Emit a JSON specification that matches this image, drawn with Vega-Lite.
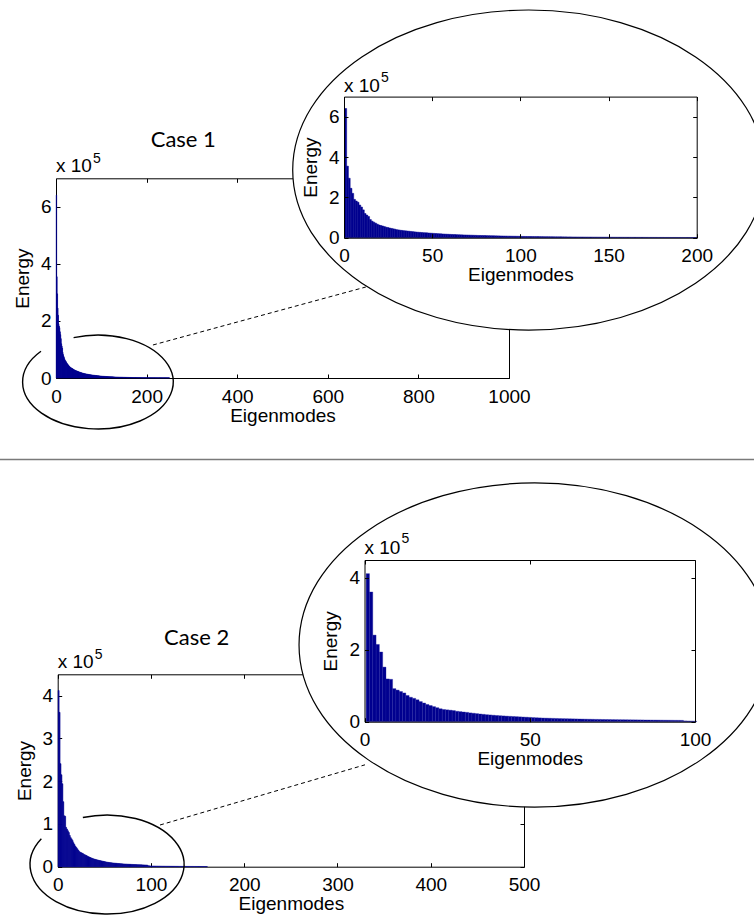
{
"$schema": "https://vega.github.io/schema/vega-lite/v6.json",
"width": 754,
"height": 919,
"autosize": {"type": "none"},
"padding": 0,
"background": "white",
"config": {
  "view": {"stroke": null},
  "font": "Liberation Sans",
  "axis": {"domainColor": "black", "domainWidth": 1, "tickColor": "black", "tickWidth": 1, "tickSize": -4, "labelFont": "Liberation Sans", "labelFontSize": 19, "labelColor": "black", "labelFlush": false, "labelOverlap": false, "titleFont": "Liberation Sans", "titleFontSize": 19, "titleFontWeight": "normal", "titleColor": "black", "grid": false, "minExtent": 0, "maxExtent": 300},
  "axisX": {"labelPadding": 13, "titlePadding": 0},
  "axisY": {"labelPadding": 9, "titlePadding": 8}
},
"datasets": {
"c1": [
{"m":1,"e":641000},{"m":2,"e":355000},{"m":3,"e":295000},{"m":4,"e":245000},{"m":5,"e":220000},{"m":6,"e":190000},{"m":7,"e":182000},{"m":8,"e":176000},{"m":9,"e":162000},{"m":10,"e":152000},
{"m":11,"e":138000},{"m":12,"e":120000},{"m":13,"e":112000},{"m":14,"e":105000},{"m":15,"e":90000},{"m":16,"e":82000},{"m":17,"e":77000},{"m":18,"e":72000},{"m":19,"e":67000},{"m":20,"e":63000},
{"m":21,"e":60000},{"m":22,"e":58000},{"m":23,"e":55000},{"m":24,"e":52000},{"m":25,"e":50000},{"m":26,"e":48000},{"m":27,"e":46000},{"m":28,"e":44000},{"m":29,"e":42000},{"m":30,"e":40000},
{"m":31,"e":38500},{"m":32,"e":37000},{"m":33,"e":36000},{"m":34,"e":35000},{"m":35,"e":34000},{"m":36,"e":33000},{"m":37,"e":32000},{"m":38,"e":31000},{"m":39,"e":30000},{"m":40,"e":29000},
{"m":41,"e":28000},{"m":42,"e":27200},{"m":43,"e":26500},{"m":44,"e":25800},{"m":45,"e":25000},{"m":46,"e":24500},{"m":47,"e":24000},{"m":48,"e":23200},{"m":49,"e":22600},{"m":50,"e":22000},
{"m":51,"e":21400},{"m":52,"e":20800},{"m":53,"e":20200},{"m":54,"e":19600},{"m":55,"e":19000},{"m":56,"e":18500},{"m":57,"e":18000},{"m":58,"e":17500},{"m":59,"e":17000},{"m":60,"e":16500},
{"m":61,"e":16100},{"m":62,"e":15700},{"m":63,"e":15300},{"m":64,"e":14900},{"m":65,"e":14600},{"m":66,"e":14300},{"m":67,"e":14000},{"m":68,"e":13700},{"m":69,"e":13400},{"m":70,"e":13100},
{"m":71,"e":12800},{"m":72,"e":12500},{"m":73,"e":12200},{"m":74,"e":11900},{"m":75,"e":11600},{"m":76,"e":11300},{"m":77,"e":11100},{"m":78,"e":10900},{"m":79,"e":10700},{"m":80,"e":10500},
{"m":81,"e":10200},{"m":82,"e":10000},{"m":83,"e":9800},{"m":84,"e":9600},{"m":85,"e":9400},{"m":86,"e":9200},{"m":87,"e":9000},{"m":88,"e":8800},{"m":89,"e":8600},{"m":90,"e":8400},
{"m":91,"e":8200},{"m":92,"e":8000},{"m":93,"e":7800},{"m":94,"e":7700},{"m":95,"e":7500},{"m":96,"e":7300},{"m":97,"e":7200},{"m":98,"e":7000},{"m":99,"e":6900},{"m":100,"e":6700},
{"m":101,"e":6300},{"m":102,"e":6200},{"m":103,"e":6100},{"m":104,"e":6000},{"m":105,"e":5900},{"m":106,"e":5800},{"m":107,"e":5700},{"m":108,"e":5600},{"m":109,"e":5500},{"m":110,"e":5400},
{"m":111,"e":5300},{"m":112,"e":5200},{"m":113,"e":5100},{"m":114,"e":5000},{"m":115,"e":4900},{"m":116,"e":4800},{"m":117,"e":4700},{"m":118,"e":4600},{"m":119,"e":4500},{"m":120,"e":4400},
{"m":121,"e":4350},{"m":122,"e":4300},{"m":123,"e":4200},{"m":124,"e":4100},{"m":125,"e":4000},{"m":126,"e":3950},{"m":127,"e":3900},{"m":128,"e":3800},{"m":129,"e":3700},{"m":130,"e":3600},
{"m":131,"e":3550},{"m":132,"e":3500},{"m":133,"e":3400},{"m":134,"e":3350},{"m":135,"e":3300},{"m":136,"e":3200},{"m":137,"e":3150},{"m":138,"e":3100},{"m":139,"e":3000},{"m":140,"e":2950},
{"m":141,"e":2900},{"m":142,"e":2850},{"m":143,"e":2800},{"m":144,"e":2750},{"m":145,"e":2700},{"m":146,"e":2650},{"m":147,"e":2600},{"m":148,"e":2550},{"m":149,"e":2500},{"m":150,"e":2450},
{"m":151,"e":2400},{"m":152,"e":2350},{"m":153,"e":2300},{"m":154,"e":2260},{"m":155,"e":2220},{"m":156,"e":2180},{"m":157,"e":2140},{"m":158,"e":2100},{"m":159,"e":2060},{"m":160,"e":2020},
{"m":161,"e":1980},{"m":162,"e":1940},{"m":163,"e":1900},{"m":164,"e":1870},{"m":165,"e":1840},{"m":166,"e":1810},{"m":167,"e":1780},{"m":168,"e":1750},{"m":169,"e":1720},{"m":170,"e":1690},
{"m":171,"e":1660},{"m":172,"e":1630},{"m":173,"e":1600},{"m":174,"e":1570},{"m":175,"e":1540},{"m":176,"e":1510},{"m":177,"e":1480},{"m":178,"e":1450},{"m":179,"e":1420},{"m":180,"e":1400},
{"m":181,"e":1380},{"m":182,"e":1360},{"m":183,"e":1340},{"m":184,"e":1320},{"m":185,"e":1300},{"m":186,"e":1280},{"m":187,"e":1260},{"m":188,"e":1240},{"m":189,"e":1220},{"m":190,"e":1200},
{"m":191,"e":1180},{"m":192,"e":1160},{"m":193,"e":1140},{"m":194,"e":1120},{"m":195,"e":1100},{"m":196,"e":1080},{"m":197,"e":1060},{"m":198,"e":1040},{"m":199,"e":1020},{"m":200,"e":1000},
{"m":201,"e":990},{"m":202,"e":980},{"m":203,"e":970},{"m":204,"e":960},{"m":205,"e":950},{"m":206,"e":940},{"m":207,"e":935},{"m":208,"e":930},{"m":209,"e":925},{"m":210,"e":920},
{"m":211,"e":910},{"m":212,"e":900},{"m":213,"e":895},{"m":214,"e":890},{"m":215,"e":885},{"m":216,"e":880},{"m":217,"e":870},{"m":218,"e":860},{"m":219,"e":855},{"m":220,"e":850},
{"m":221,"e":845},{"m":222,"e":840},{"m":223,"e":830},{"m":224,"e":820},{"m":225,"e":815},{"m":226,"e":810},{"m":227,"e":805},{"m":228,"e":800},{"m":229,"e":795},{"m":230,"e":790},
{"m":231,"e":785},{"m":232,"e":780},{"m":233,"e":775},{"m":234,"e":770},{"m":235,"e":765},{"m":236,"e":760},{"m":237,"e":755},{"m":238,"e":750},{"m":239,"e":745},{"m":240,"e":740},
{"m":241,"e":735},{"m":242,"e":730},{"m":243,"e":725},{"m":244,"e":720},{"m":245,"e":715},{"m":246,"e":710},{"m":247,"e":705},{"m":248,"e":700},{"m":249,"e":695},{"m":250,"e":690}
],
"c2": [
{"m":1,"e":412000},{"m":2,"e":361000},{"m":3,"e":241000},{"m":4,"e":215000},{"m":5,"e":194000},{"m":6,"e":152000},{"m":7,"e":119000},{"m":8,"e":118000},{"m":9,"e":92000},{"m":10,"e":88000},
{"m":11,"e":84000},{"m":12,"e":80000},{"m":13,"e":73000},{"m":14,"e":68000},{"m":15,"e":65000},{"m":16,"e":61000},{"m":17,"e":56000},{"m":18,"e":52000},{"m":19,"e":48000},{"m":20,"e":45000},
{"m":21,"e":42000},{"m":22,"e":39000},{"m":23,"e":36000},{"m":24,"e":34000},{"m":25,"e":33000},{"m":26,"e":32000},{"m":27,"e":31000},{"m":28,"e":29000},{"m":29,"e":28000},{"m":30,"e":27000},
{"m":31,"e":26000},{"m":32,"e":24500},{"m":33,"e":23500},{"m":34,"e":22500},{"m":35,"e":21500},{"m":36,"e":20500},{"m":37,"e":19500},{"m":38,"e":18800},{"m":39,"e":18000},{"m":40,"e":17300},
{"m":41,"e":16700},{"m":42,"e":16100},{"m":43,"e":15500},{"m":44,"e":15000},{"m":45,"e":14500},{"m":46,"e":14000},{"m":47,"e":13500},{"m":48,"e":13000},{"m":49,"e":12500},{"m":50,"e":12000},
{"m":51,"e":11500},{"m":52,"e":11000},{"m":53,"e":10600},{"m":54,"e":10200},{"m":55,"e":9900},{"m":56,"e":9600},{"m":57,"e":9300},{"m":58,"e":9000},{"m":59,"e":8700},{"m":60,"e":8500},
{"m":61,"e":8300},{"m":62,"e":8100},{"m":63,"e":7900},{"m":64,"e":7700},{"m":65,"e":7500},{"m":66,"e":7300},{"m":67,"e":7100},{"m":68,"e":6900},{"m":69,"e":6700},{"m":70,"e":6500},
{"m":71,"e":6400},{"m":72,"e":6200},{"m":73,"e":6100},{"m":74,"e":6000},{"m":75,"e":5800},{"m":76,"e":5700},{"m":77,"e":5600},{"m":78,"e":5500},{"m":79,"e":5400},{"m":80,"e":5300},
{"m":81,"e":5200},{"m":82,"e":5100},{"m":83,"e":5000},{"m":84,"e":4900},{"m":85,"e":4800},{"m":86,"e":4700},{"m":87,"e":4600},{"m":88,"e":4500},{"m":89,"e":4400},{"m":90,"e":4300},
{"m":91,"e":4200},{"m":92,"e":4100},{"m":93,"e":4000},{"m":94,"e":3900},{"m":95,"e":3800},{"m":96,"e":3700},{"m":97,"e":2200},{"m":98,"e":2000},{"m":99,"e":1800},{"m":100,"e":1600},
{"m":101,"e":1550},{"m":102,"e":1500},{"m":103,"e":1460},{"m":104,"e":1420},{"m":105,"e":1380},{"m":106,"e":1340},{"m":107,"e":1300},{"m":108,"e":1270},{"m":109,"e":1240},{"m":110,"e":1210},
{"m":111,"e":1180},{"m":112,"e":1150},{"m":113,"e":1120},{"m":114,"e":1090},{"m":115,"e":1060},{"m":116,"e":1040},{"m":117,"e":1020},{"m":118,"e":1000},{"m":119,"e":980},{"m":120,"e":960},
{"m":121,"e":940},{"m":122,"e":920},{"m":123,"e":900},{"m":124,"e":880},{"m":125,"e":860},{"m":126,"e":840},{"m":127,"e":820},{"m":128,"e":800},{"m":129,"e":780},{"m":130,"e":760},
{"m":131,"e":740},{"m":132,"e":720},{"m":133,"e":700},{"m":134,"e":690},{"m":135,"e":680},{"m":136,"e":670},{"m":137,"e":660},{"m":138,"e":650},{"m":139,"e":640},{"m":140,"e":630},
{"m":141,"e":620},{"m":142,"e":610},{"m":143,"e":600},{"m":144,"e":590},{"m":145,"e":580},{"m":146,"e":570},{"m":147,"e":560},{"m":148,"e":550},{"m":149,"e":540},{"m":150,"e":530},
{"m":151,"e":520},{"m":152,"e":510},{"m":153,"e":500},{"m":154,"e":490},{"m":155,"e":480},{"m":156,"e":470},{"m":157,"e":460},{"m":158,"e":450},{"m":159,"e":440},{"m":160,"e":430}
]
},
"layer": [
{
  "data": {"values": [{}]},
  "mark": {"type": "rule", "color": "#7a7a7a", "strokeWidth": 1.5},
  "encoding": {"y": {"datum": 0.5, "type": "quantitative", "scale": {"domain": [0, 1], "range": [919, 0]}, "axis": null}}
},
{
  "layer": [
    {
      "data": {"name": "c1"},
      "transform": [{"bin": {"extent": [0.5, 1000.5], "step": 1, "nice": false}, "field": "m", "as": ["m0", "m1"]}],
      "mark": {"type": "rect", "color": "#00008f", "stroke": "#00008f", "strokeWidth": 0.6},
      "encoding": {
        "x": {"field": "m0", "type": "quantitative", "scale": {"domain": [0, 1000], "range": [56, 509], "nice": false, "zero": false}, "axis": {"orient": "bottom", "offset": -541, "values": [0, 200, 400, 600, 800, 1000], "format": "d", "title": "Eigenmodes", "zindex": 0}},
        "x2": {"field": "m1"},
        "y": {"field": "e", "type": "quantitative", "scale": {"domain": [0, 700000], "range": [378, 178.3], "nice": false}, "axis": {"orient": "left", "offset": -56, "values": [0, 200000, 400000, 600000], "labelExpr": "datum.value / 100000", "title": "Energy", "zindex": 0}},
        "y2": {"datum": 0}
      }
    },
    {
      "data": {"values": [{}]},
      "mark": {"type": "point", "opacity": 0},
      "encoding": {
        "x": {"datum": 0, "type": "quantitative", "axis": {"orient": "top", "offset": -178.3, "values": [0, 200, 400, 600, 800, 1000], "labels": false, "title": null, "zindex": 0}},
        "y": {"datum": 0, "type": "quantitative", "axis": {"orient": "right", "offset": -245, "values": [0, 200000, 400000, 600000], "labels": false, "title": null, "zindex": 0}}
      }
    },
    {
      "data": {"values": [{}]},
      "mark": {"type": "text", "text": "x 10", "align": "left", "baseline": "alphabetic", "dy": -6.5, "fontSize": 19, "font": "Liberation Sans", "color": "black"},
      "encoding": {"x": {"datum": 0, "type": "quantitative", "axis": null}, "y": {"datum": 700000, "type": "quantitative", "axis": null}}
    },
    {
      "data": {"values": [{}]},
      "mark": {"type": "text", "text": "5", "align": "left", "baseline": "alphabetic", "dx": 37, "dy": -15.5, "fontSize": 14, "font": "Liberation Sans", "color": "black"},
      "encoding": {"x": {"datum": 0, "type": "quantitative", "axis": null}, "y": {"datum": 700000, "type": "quantitative", "axis": null}}
    },
    {
      "data": {"values": [{}]},
      "mark": {"type": "text", "text": "Case 1", "align": "center", "baseline": "alphabetic", "dy": -31.6, "fontSize": 22, "font": "Lato", "color": "black"},
      "encoding": {"x": {"datum": 281, "type": "quantitative", "axis": null}, "y": {"datum": 700000, "type": "quantitative", "axis": null}}
    },
    {
      "data": {"values": [{}]},
      "mark": {"type": "point", "shape": "M -0.324 -0.590 A 1 0.624 0 1 1 -0.757 -0.408", "size": 22680, "filled": false, "stroke": "black", "strokeWidth": 1.4, "opacity": 1},
      "encoding": {"x": {"datum": 92.7, "type": "quantitative", "axis": null}, "y": {"datum": -14000, "type": "quantitative", "axis": null}}
    },
    {
      "data": {"values": [{}]},
      "mark": {"type": "rule", "color": "black", "strokeWidth": 1, "strokeDash": [4, 3]},
      "encoding": {"x": {"datum": 214, "type": "quantitative", "axis": null}, "y": {"datum": 115700, "type": "quantitative", "axis": null}, "x2": {"datum": 684}, "y2": {"datum": 319000}}
    },
    {
      "data": {"values": [{}]},
      "mark": {"type": "point", "shape": "M -1 0 A 1 0.678 0 1 1 1 0 A 1 0.678 0 1 1 -1 0 Z", "size": 222784, "filled": true, "fill": "white", "stroke": "black", "strokeWidth": 1.2, "opacity": 1},
      "encoding": {"x": {"datum": 1043.5, "type": "quantitative", "axis": null}, "y": {"datum": 729000, "type": "quantitative", "axis": null}}
    }
  ],
  "resolve": {"axis": {"x": "independent", "y": "independent"}}
},
{
  "layer": [
    {
      "data": {"name": "c1"},
      "transform": [{"filter": "datum.m <= 200"}, {"bin": {"extent": [0.5, 200.5], "step": 1, "nice": false}, "field": "m", "as": ["m0", "m1"]}],
      "mark": {"type": "rect", "color": "#00008f", "stroke": "#00008f", "strokeWidth": 0.5},
      "encoding": {
        "x": {"field": "m0", "type": "quantitative", "scale": {"domain": [0, 200], "range": [344, 696.7], "nice": false, "zero": false}, "axis": {"orient": "bottom", "offset": -681.3, "values": [0, 50, 100, 150, 200], "format": "d", "title": "Eigenmodes", "zindex": 1}},
        "x2": {"field": "m1"},
        "y": {"field": "e", "type": "quantitative", "scale": {"domain": [0, 700000], "range": [237.7, 96.6], "nice": false}, "axis": {"orient": "left", "offset": -344, "values": [0, 200000, 400000, 600000], "labelExpr": "datum.value / 100000", "title": "Energy", "zindex": 1}},
        "y2": {"datum": 0}
      }
    },
    {
      "data": {"values": [{}]},
      "mark": {"type": "point", "opacity": 0},
      "encoding": {
        "x": {"datum": 0, "type": "quantitative", "axis": {"orient": "top", "offset": -96.6, "values": [0, 50, 100, 150, 200], "labels": false, "title": null, "zindex": 1}},
        "y": {"datum": 0, "type": "quantitative", "axis": {"orient": "right", "offset": -57.3, "values": [0, 200000, 400000, 600000], "labels": false, "title": null, "zindex": 1}}
      }
    },
    {
      "data": {"values": [{}]},
      "mark": {"type": "text", "text": "x 10", "align": "left", "baseline": "alphabetic", "dy": -5, "fontSize": 19, "font": "Liberation Sans", "color": "black"},
      "encoding": {"x": {"datum": 0, "type": "quantitative", "axis": null}, "y": {"datum": 700000, "type": "quantitative", "axis": null}}
    },
    {
      "data": {"values": [{}]},
      "mark": {"type": "text", "text": "5", "align": "left", "baseline": "alphabetic", "dx": 37, "dy": -15, "fontSize": 14, "font": "Liberation Sans", "color": "black"},
      "encoding": {"x": {"datum": 0, "type": "quantitative", "axis": null}, "y": {"datum": 700000, "type": "quantitative", "axis": null}}
    }
  ],
  "resolve": {"axis": {"x": "independent", "y": "independent"}}
},
{
  "layer": [
    {
      "data": {"name": "c2"},
      "transform": [{"bin": {"extent": [0.5, 500.5], "step": 1, "nice": false}, "field": "m", "as": ["m0", "m1"]}],
      "mark": {"type": "rect", "color": "#00008f", "stroke": "#00008f", "strokeWidth": 0.6},
      "encoding": {
        "x": {"field": "m0", "type": "quantitative", "scale": {"domain": [0, 500], "range": [57.7, 524], "nice": false, "zero": false}, "axis": {"orient": "bottom", "offset": -52.3, "values": [0, 100, 200, 300, 400, 500], "format": "d", "title": "Eigenmodes", "zindex": 0}},
        "x2": {"field": "m1"},
        "y": {"field": "e", "type": "quantitative", "scale": {"domain": [0, 450000], "range": [866.7, 674.3], "nice": false}, "axis": {"orient": "left", "offset": -57.7, "values": [0, 100000, 200000, 300000, 400000], "labelExpr": "datum.value / 100000", "title": "Energy", "zindex": 0}},
        "y2": {"datum": 0}
      }
    },
    {
      "data": {"values": [{}]},
      "mark": {"type": "point", "opacity": 0},
      "encoding": {
        "x": {"datum": 0, "type": "quantitative", "axis": {"orient": "top", "offset": -674.3, "values": [0, 100, 200, 300, 400, 500], "labels": false, "title": null, "zindex": 0}},
        "y": {"datum": 0, "type": "quantitative", "axis": {"orient": "right", "offset": -230, "values": [0, 100000, 200000, 300000, 400000], "labels": false, "title": null, "zindex": 0}}
      }
    },
    {
      "data": {"values": [{}]},
      "mark": {"type": "text", "text": "x 10", "align": "left", "baseline": "alphabetic", "dy": -6, "fontSize": 19, "font": "Liberation Sans", "color": "black"},
      "encoding": {"x": {"datum": 0, "type": "quantitative", "axis": null}, "y": {"datum": 450000, "type": "quantitative", "axis": null}}
    },
    {
      "data": {"values": [{}]},
      "mark": {"type": "text", "text": "5", "align": "left", "baseline": "alphabetic", "dx": 37, "dy": -15.5, "fontSize": 14, "font": "Liberation Sans", "color": "black"},
      "encoding": {"x": {"datum": 0, "type": "quantitative", "axis": null}, "y": {"datum": 450000, "type": "quantitative", "axis": null}}
    },
    {
      "data": {"values": [{}]},
      "mark": {"type": "text", "text": "Case 2", "align": "center", "baseline": "alphabetic", "dy": -29.3, "fontSize": 22, "font": "Lato", "color": "black"},
      "encoding": {"x": {"datum": 149, "type": "quantitative", "axis": null}, "y": {"datum": 450000, "type": "quantitative", "axis": null}}
    },
    {
      "data": {"values": [{}]},
      "mark": {"type": "point", "shape": "M -0.314 -0.610 A 1 0.643 0 1 1 -0.853 -0.335", "size": 23716, "filled": false, "stroke": "black", "strokeWidth": 1.4, "opacity": 1},
      "encoding": {"x": {"datum": 52.9, "type": "quantitative", "axis": null}, "y": {"datum": 5100, "type": "quantitative", "axis": null}}
    },
    {
      "data": {"values": [{}]},
      "mark": {"type": "rule", "color": "black", "strokeWidth": 1, "strokeDash": [4, 3]},
      "encoding": {"x": {"datum": 109.7, "type": "quantitative", "axis": null}, "y": {"datum": 97500, "type": "quantitative", "axis": null}, "x2": {"datum": 329.5}, "y2": {"datum": 238300}}
    },
    {
      "data": {"values": [{}]},
      "mark": {"type": "point", "shape": "M -1 0 A 1 0.688 0 1 1 1 0 A 1 0.688 0 1 1 -1 0 Z", "size": 222029, "filled": true, "fill": "white", "stroke": "black", "strokeWidth": 1.2, "opacity": 1},
      "encoding": {"x": {"datum": 511.4, "type": "quantitative", "axis": null}, "y": {"datum": 518500, "type": "quantitative", "axis": null}}
    }
  ],
  "resolve": {"axis": {"x": "independent", "y": "independent"}}
},
{
  "layer": [
    {
      "data": {"name": "c2"},
      "transform": [{"filter": "datum.m <= 100"}, {"bin": {"extent": [0.5, 100.5], "step": 1, "nice": false}, "field": "m", "as": ["m0", "m1"]}],
      "mark": {"type": "rect", "color": "#00008f", "stroke": "#1c1ca0", "strokeWidth": 0.35},
      "encoding": {
        "x": {"field": "m0", "type": "quantitative", "scale": {"domain": [0, 100], "range": [364.5, 695], "nice": false, "zero": false}, "axis": {"orient": "bottom", "offset": -197.3, "values": [0, 50, 100], "format": "d", "title": "Eigenmodes", "zindex": 1}},
        "x2": {"field": "m1"},
        "y": {"field": "e", "type": "quantitative", "scale": {"domain": [0, 450000], "range": [721.7, 560], "nice": false}, "axis": {"orient": "left", "offset": -364.5, "values": [0, 200000, 400000], "labelExpr": "datum.value / 100000", "title": "Energy", "zindex": 1}},
        "y2": {"datum": 0}
      }
    },
    {
      "data": {"values": [{}]},
      "mark": {"type": "point", "opacity": 0},
      "encoding": {
        "x": {"datum": 0, "type": "quantitative", "axis": {"orient": "top", "offset": -560, "values": [0, 50, 100], "labels": false, "title": null, "zindex": 1}},
        "y": {"datum": 0, "type": "quantitative", "axis": {"orient": "right", "offset": -59, "values": [0, 200000, 400000], "labels": false, "title": null, "zindex": 1}}
      }
    },
    {
      "data": {"values": [{}]},
      "mark": {"type": "text", "text": "x 10", "align": "left", "baseline": "alphabetic", "dy": -6.5, "fontSize": 19, "font": "Liberation Sans", "color": "black"},
      "encoding": {"x": {"datum": 0, "type": "quantitative", "axis": null}, "y": {"datum": 450000, "type": "quantitative", "axis": null}}
    },
    {
      "data": {"values": [{}]},
      "mark": {"type": "text", "text": "5", "align": "left", "baseline": "alphabetic", "dx": 37, "dy": -17, "fontSize": 14, "font": "Liberation Sans", "color": "black"},
      "encoding": {"x": {"datum": 0, "type": "quantitative", "axis": null}, "y": {"datum": 450000, "type": "quantitative", "axis": null}}
    }
  ],
  "resolve": {"axis": {"x": "independent", "y": "independent"}}
}
],
"resolve": {"scale": {"x": "independent", "y": "independent"}, "axis": {"x": "independent", "y": "independent"}}
}
